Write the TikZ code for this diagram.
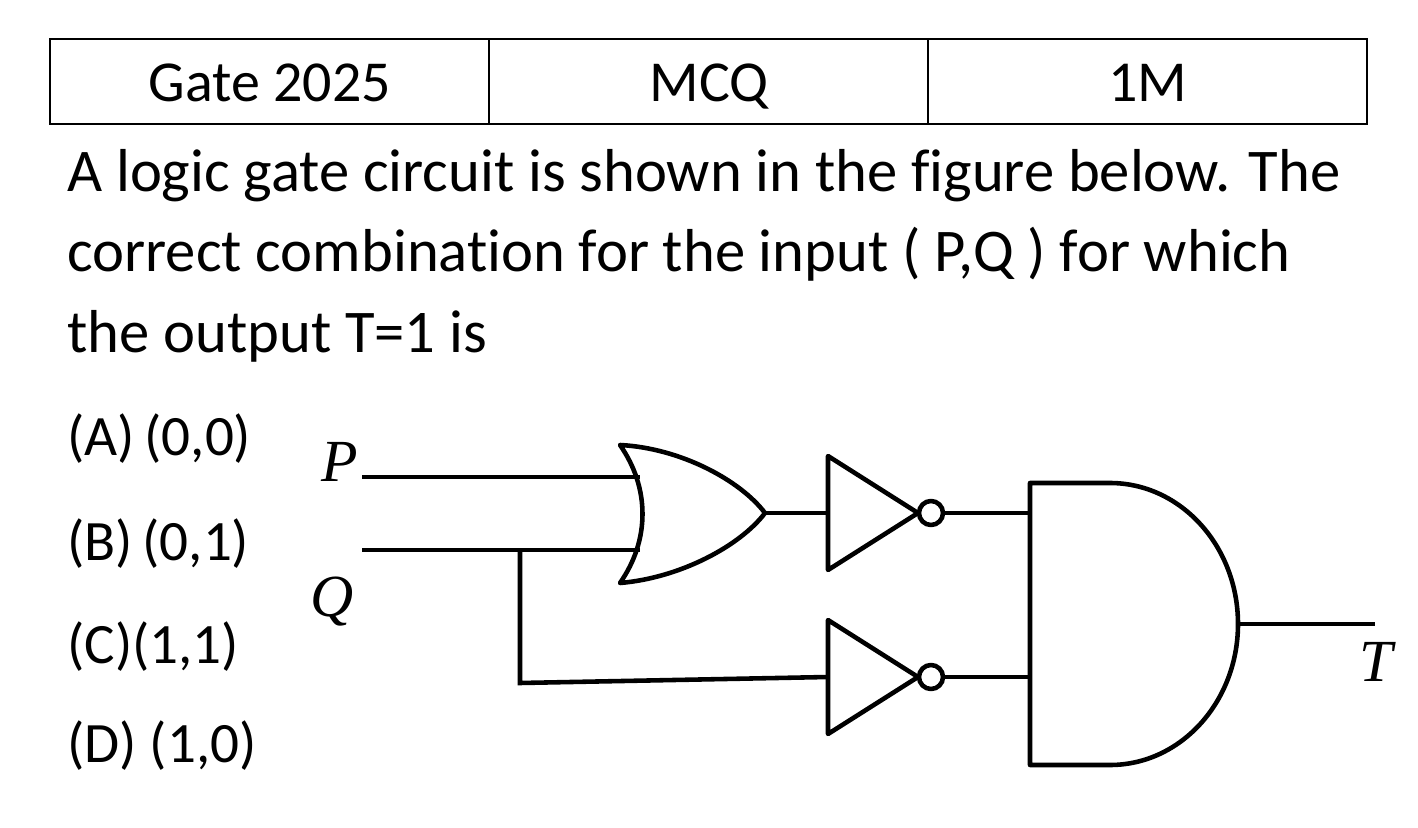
\documentclass[tikz,border=0pt]{standalone}
\usepackage{fontspec}
\setmainfont[Ligatures={NoCommon}]{Carlito}
\newfontfamily\lblfont{Liberation Serif}
\begin{document}
\begin{tikzpicture}[x=0.02cm,y=-0.02cm,
    txt/.style={inner sep=0pt, font=\fontsize{34.5}{40}\selectfont},
    opt/.style={inner sep=0pt, font=\fontsize{32.5}{38}\selectfont},
    cell/.style={inner sep=0pt, anchor=base, font=\fontsize{33}{38}\selectfont},
    lbl/.style={inner sep=0pt, font=\fontsize{34}{40}\selectfont\lblfont\itshape},
    wire/.style={line width=2.6pt},
    gate/.style={line width=2.6pt, line join=round}]
  \useasboundingbox (0,0) rectangle (1418,828);
  % table
  \draw[line width=1pt] (50,39) rectangle (1367,124) (489,39) -- (489,124) (928,39) -- (928,124);
  \node[cell] (gate) at (270,102) {Gate 2025};
  \node[cell] (mcq) at (709,102) {MCQ};
  \node[cell] (mark) at (1148,102) {1M};
  % question
  \node[txt, anchor=base west] (q1) at (67,192) {A logic gate circuit is shown in the figure below. The};
  \node[txt, anchor=base west] (q2) at (67,272) {correct combination for the input ( P,Q ) for which};
  \node[txt, anchor=base west] (q3) at (67,352) {the output T=1 is};
  \node[opt, anchor=base west] (oa) at (67,455) {(A)\,(0,0)};
  \node[opt, anchor=base west] (ob) at (67,560) {(B)\,(0,1)};
  \node[opt, anchor=base west] (oc) at (67,663) {(C)(1,1)};
  \node[opt, anchor=base west] (od) at (67,762) {(D) (1,0)};
  % labels
  \node[lbl] (P) at (340,462) {P};
  \node[lbl] (Q) at (332,602) {Q};
  \node[lbl] (T) at (1376,662) {T};
  % OR gate
  \draw[gate] (620,445) .. controls (680,448) and (740,480) .. (765,513)
    .. controls (740,546) and (680,578) .. (620,583)
    .. controls (650,540) and (650,488) .. cycle;
  \coordinate (or) at (765,513);
  % NOT gates
  \foreach \n/\y in {n1/513, n2/677} {
    \draw[gate] (828,\y-57) -- (918,\y) -- (828,\y+57) -- cycle;
    \draw[gate] (931,\y) circle (12);
    \coordinate (\n-in) at (828,\y);
    \coordinate (\n) at (943,\y);
  }
  % AND gate
  \draw[gate] (1030,483) -- (1110,483) arc (-90:90:128 and 141) -- (1030,765) -- cycle;
  \coordinate (and1) at (1030,513);
  \coordinate (and2) at (1030,677);
  \coordinate (andout) at (1238,624);
  % wires
  \coordinate (pin) at (362,477);
  \coordinate (qin) at (362,550);
  \coordinate (j) at (520,550);
  \coordinate (tout) at (1375,624);
  \draw[wire] (pin) -- (640,477);
  \draw[wire] (qin) -- (640,550);
  \draw[wire] (j) -- (520,683) -- (n2-in);
  \draw[wire] (or) -- (n1-in);
  \draw[wire] (n1) -- (and1);
  \draw[wire] (n2) -- (and2);
  \draw[wire] (andout) -- (tout);
\end{tikzpicture}
\end{document}
